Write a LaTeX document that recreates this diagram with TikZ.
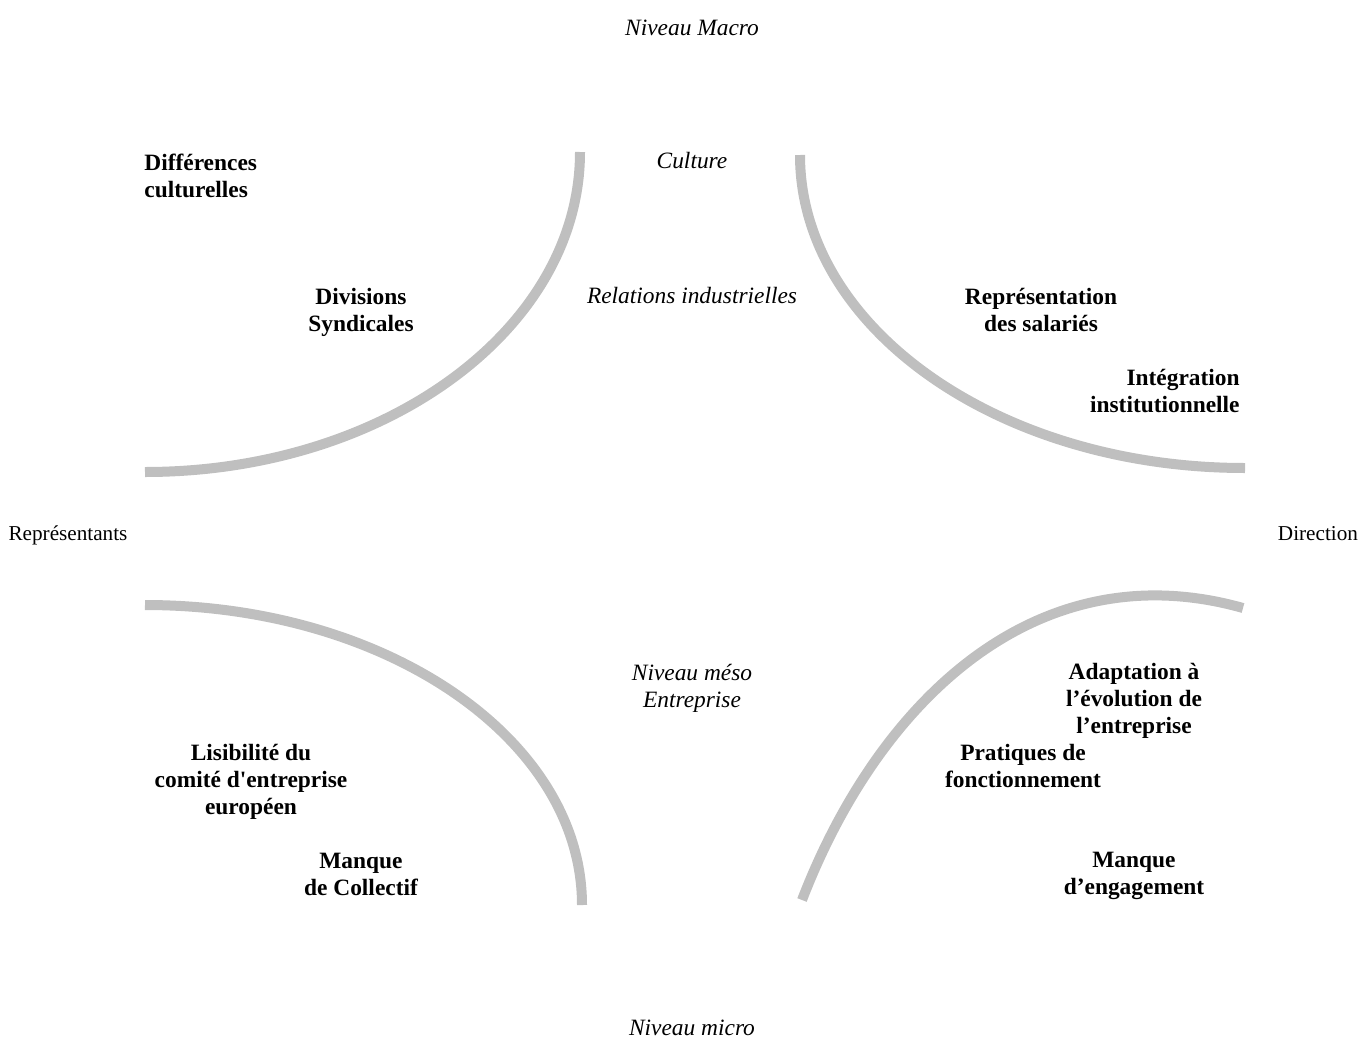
\documentclass[tikz,border=0pt]{standalone}
\usepackage{fontspec}
\setmainfont{Liberation Serif}[Ligatures=TeXOff]
\usepackage{xcolor}
\usepackage{tikz}
\usetikzlibrary{positioning,calc}
\definecolor{arcgray}{RGB}{191,191,191}

\begin{document}
\begin{tikzpicture}[x=0.5pt, y=-0.5pt,
    arcline/.style={line width=5pt, arcgray},
    fact/.style={font=\fontsize{11.7}{13.5}\selectfont\bfseries, align=center, inner sep=0pt},
    level/.style={font=\fontsize{11.7}{13.5}\selectfont\itshape, align=center, inner sep=0pt},
    actor/.style={font=\fontsize{10.6}{12}\selectfont, inner sep=0pt}]
        \useasboundingbox (0,0) rectangle (1360,1039);

        % Arcs
        \draw[arcline] (580,152) .. controls (580,329) and (385,472) .. (145,472);
        \draw[arcline] (800,155) .. controls (800,328) and (999,468) .. (1245,468);
        \draw[arcline] (145,605) .. controls (386,605) and (582,739) .. (582,905);
        \draw[arcline] (802,900) .. controls (879,700) and (1037,550) .. (1243,608);

        % Niveaux
        \node[level] (macro) at (692,28) {Niveau Macro};
        \node[level] (culture) at (692,161) {Culture};
        \node[level] (relind) at (692,296) {Relations industrielles};
        \node[level] (meso) at (692,688) {Niveau méso\\Entreprise};
        \node[level] (micro) at (692,1028) {Niveau micro};

        % Acteurs
        \node[actor] (repres) at (68,535) {Représentants};
        \node[actor] (direction) at (1318,534) {Direction};

        % Haut
        \node[fact, align=left, anchor=west] (diffcult) at (144,176) {Différences\\culturelles};
        \node[fact] (divsynd) at (361,312) {Divisions\\Syndicales};
        \node[fact] (repsal) at (1041,310) {Représentation\\des salariés};
        \node[fact, align=right, anchor=east] (integ) at (1240,391) {Intégration\\institutionnelle};

        % Bas
        \node[fact] (lisib) at (251,782) {Lisibilité du\\comité d'entreprise\\européen};
        \node[fact] (mcoll) at (361,874) {Manque\\de Collectif};
        \node[fact] (adapt) at (1134,701) {Adaptation à\\l’évolution de\\l’entreprise};
        \node[fact] (prat) at (1023,766) {Pratiques de\\fonctionnement};
        \node[fact] (meng) at (1134,876) {Manque\\d’engagement};
    \end{tikzpicture}
\end{document}
